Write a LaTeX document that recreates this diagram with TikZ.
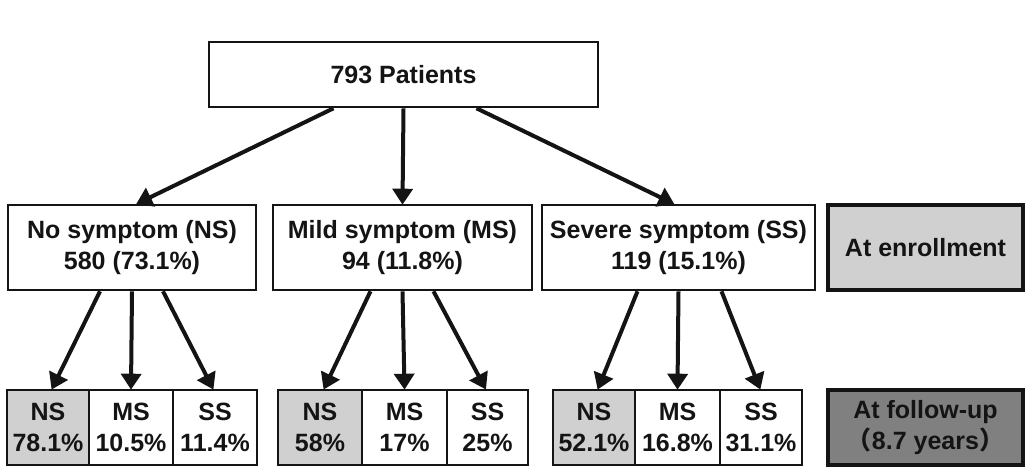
\documentclass[tikz,border=0pt]{standalone}
\usepackage{fontspec}
\setmainfont{Liberation Sans}
\newfontfamily\cjk{Noto Sans CJK SC}
\usetikzlibrary{arrows.meta}
\definecolor{lightg}{RGB}{208,208,208}
\definecolor{darkg}{RGB}{128,128,128}
\definecolor{ink}{RGB}{20,20,20}
\tikzset{
  box/.style={draw=ink, line width=2.6pt, fill=white, inner sep=0pt, align=center,
    font=\fontsize{25}{31}\selectfont\bfseries, text=ink},
  legendbox/.style={box, line width=4.5pt},
  arr/.style={draw=ink, line width=4pt, -{Triangle[length=16pt,width=20pt]}, shorten >=-1pt}
}
\begin{document}
\begin{tikzpicture}[x=1pt,y=-1pt]
\useasboundingbox (0,0) rectangle (1036,468);
% top
\node[box, minimum width=389pt, minimum height=65pt] (top) at (403.5,74.5) {793 Patients};
% middle
\node[box, minimum width=248pt, minimum height=85pt] (m1) at (132,247.5) {No symptom (NS)\\580 (73.1\%)};
\node[box, minimum width=259pt, minimum height=85pt] (m2) at (402.5,247.5) {Mild symptom (MS)\\94 (11.8\%)};
\node[box, minimum width=273pt, minimum height=85pt] (m3) at (678.5,247.5) {Severe symptom (SS)\\119 (15.1\%)};
\node[legendbox, fill=lightg, minimum width=195pt, minimum height=85pt] (enr) at (925.5,247.5) {At enrollment};
% bottom group 1
\node[box, fill=lightg, minimum width=82pt, minimum height=75pt] (a1) at (48,427.5) {NS\\78.1\%};
\node[box, minimum width=84pt, minimum height=75pt] (a2) at (131,427.5) {MS\\10.5\%};
\node[box, minimum width=84pt, minimum height=75pt] (a3) at (215,427.5) {SS\\11.4\%};
% bottom group 2
\node[box, fill=lightg, minimum width=84pt, minimum height=75pt] (b1) at (320,427.5) {NS\\58\%};
\node[box, minimum width=85pt, minimum height=75pt] (b2) at (404.5,427.5) {MS\\17\%};
\node[box, minimum width=81pt, minimum height=75pt] (b3) at (487.5,427.5) {SS\\25\%};
% bottom group 3
\node[box, fill=lightg, minimum width=82pt, minimum height=75pt] (c1) at (594,427.5) {NS\\52.1\%};
\node[box, minimum width=85pt, minimum height=75pt] (c2) at (677.5,427.5) {MS\\16.8\%};
\node[box, minimum width=82pt, minimum height=75pt] (c3) at (761,427.5) {SS\\31.1\%};
% follow-up
\node[legendbox, fill=darkg, minimum width=195pt, minimum height=75pt] (fu) at (925.5,427.5) {At follow-up\\{\cjk （}8.7 years{\cjk ）}};
% arrows top -> middle
\draw[arr] ([xshift=-70pt]top.south) -- ([xshift=5pt]m1.north);
\draw[arr] (top.south) -- (m2.north);
\draw[arr] ([xshift=73pt]top.south) -- ([xshift=-5pt]m3.north);
% arrows middle -> bottom
\draw[arr] ([xshift=-32pt]m1.south) -- ([xshift=4pt]a1.north);
\draw[arr] (m1.south) -- (a2.north);
\draw[arr] ([xshift=31pt]m1.south) -- ([xshift=-2pt]a3.north);
\draw[arr] ([xshift=-32pt]m2.south) -- ([xshift=4pt]b1.north);
\draw[arr] (m2.south) -- (b2.north);
\draw[arr] ([xshift=31pt]m2.south) -- ([xshift=-2pt]b3.north);
\draw[arr] ([xshift=-41pt]m3.south) -- ([xshift=4pt]c1.north);
\draw[arr] (m3.south) -- (c2.north);
\draw[arr] ([xshift=43pt]m3.south) -- ([xshift=-1pt]c3.north);
\end{tikzpicture}
\end{document}
